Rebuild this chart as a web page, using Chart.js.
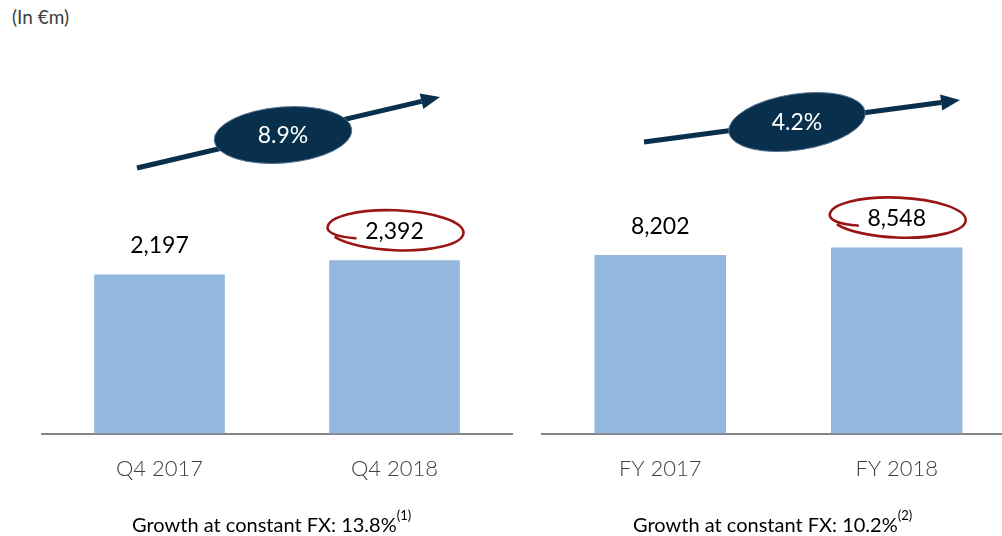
<!DOCTYPE html>
<html>
<head>
<meta charset="utf-8">
<script src="https://cdn.jsdelivr.net/npm/chart.js@4.4.0/dist/chart.umd.min.js"></script>
<style>
  html, body { margin: 0; padding: 0; width: 1002px; height: 536px; overflow: hidden; background: #fff; }
  body { position: relative; font-family: Lato, "Open Sans", sans-serif; }
  canvas { position: absolute; left: 0; top: 0; }
  #unit { position: absolute; left: 12px; top: 5px; font-size: 19px; color: #404040; }
  .note { position: absolute; top: 512px; font-size: 20px; line-height: 24px; color: #000; white-space: nowrap; }
  .note sup { font-size: 13px; position: relative; top: -3px; vertical-align: top; line-height: 13px; }
</style>
</head>
<body>
<div id="unit">(In €m)</div>
<canvas id="quarter" width="1002" height="536"></canvas>
<canvas id="year" width="1016" height="536"></canvas>
<div class="note" id="noteQ" style="left:132px"></div>
<div class="note" id="noteY" style="left:633px"></div>
<script>
const quarterLabels = ["Q4 2017", "Q4 2018"];
const quarterValues = [2197, 2392];
const yearLabels = ["FY 2017", "FY 2018"];
const yearValues = [8202, 8548];
const growthLabels = ["8.9%", "4.2%"];
const fxGrowth = ["13.8%", "10.2%"];
const fxNotes = ["(1)", "(2)"];

const NAVY = "#08304d";
const RED = "#9a1616";
const BAR = "#94b7de";

document.getElementById("noteQ").innerHTML = "Growth at constant FX: " + fxGrowth[0] + "<sup>" + fxNotes[0] + "</sup>";
document.getElementById("noteY").innerHTML = "Growth at constant FX: " + fxGrowth[1] + "<sup>" + fxNotes[1] + "</sup>";

// arrow + growth bubble, value labels, red loop round the latest value
const decoPlugin = {
  id: "deco",
  afterDatasetsDraw(chart, args, opts) {
    const ctx = chart.ctx;
    const meta = chart.getDatasetMeta(0);
    const values = chart.data.datasets[0].data;

    // arrow
    ctx.save();
    ctx.strokeStyle = NAVY;
    ctx.fillStyle = NAVY;
    ctx.lineWidth = 5;
    const [x0, y0, x1, y1] = opts.arrow;
    const ang = Math.atan2(y1 - y0, x1 - x0);
    const headLen = 19, headW = 8;
    const bx = x1 - headLen * Math.cos(ang), by = y1 - headLen * Math.sin(ang);
    ctx.beginPath();
    ctx.moveTo(x0, y0);
    ctx.lineTo(bx, by);
    ctx.stroke();
    ctx.beginPath();
    ctx.moveTo(x1, y1);
    ctx.lineTo(bx + headW * Math.sin(ang), by - headW * Math.cos(ang));
    ctx.lineTo(bx - headW * Math.sin(ang), by + headW * Math.cos(ang));
    ctx.closePath();
    ctx.fill();

    // bubble
    const b = opts.bubble;
    ctx.beginPath();
    ctx.ellipse(b.x, b.y, 69, 28, b.rot, 0, Math.PI * 2);
    ctx.fill();
    ctx.strokeStyle = "#5a7590";
    ctx.lineWidth = 1;
    ctx.stroke();
    ctx.fillStyle = "#fff";
    ctx.font = "23px Lato, 'Open Sans', sans-serif";
    ctx.textAlign = "center";
    ctx.textBaseline = "middle";
    ctx.fillText(opts.growth, b.x, b.y + 1);

    // value labels
    ctx.fillStyle = "#000";
    ctx.font = "23px Lato, 'Open Sans', sans-serif";
    meta.data.forEach((bar, i) => {
      ctx.fillText(values[i].toLocaleString("en-US"), bar.x, bar.y - 29);
    });

    // hand drawn loop round the last value
    const last = meta.data[meta.data.length - 1];
    const cx = last.x + 1, cy = last.y - 30;
    ctx.strokeStyle = RED;
    ctx.lineWidth = 2.6;
    ctx.lineCap = "round";
    ctx.beginPath();
    ctx.moveTo(cx - 40, cy + 8);
    ctx.quadraticCurveTo(cx - 66, cy + 6, cx - 68, cy - 2);
    ctx.ellipse(cx, cy, 68, 20, 0.04, Math.PI, 3 * Math.PI - 0.5);
    ctx.stroke();
    ctx.restore();
  }
};

function makeChart(id, labels, values, yMax, pad, deco) {
  return new Chart(document.getElementById(id), {
    type: "bar",
    data: {
      labels: labels,
      datasets: [{
        data: values,
        backgroundColor: BAR,
        borderWidth: 0,
        barPercentage: 0.556,
        categoryPercentage: 1
      }]
    },
    options: {
      responsive: false,
      animation: false,
      layout: { padding: pad },
      plugins: {
        legend: { display: false },
        tooltip: { enabled: false },
        deco: deco
      },
      scales: {
        x: {
          grid: { display: false, drawTicks: false },
          border: { display: true, color: "#858585", width: 2 },
          ticks: {
            padding: 22,
            color: "#404040",
            font: { family: "Lato, 'Open Sans', sans-serif", size: 22, weight: "300" }
          }
        },
        y: { display: false, min: 0, max: yMax }
      }
    },
    plugins: [decoPlugin]
  });
}

makeChart("quarter", quarterLabels, quarterValues, 5529,
  { left: 42, right: 490, top: 33, bottom: 32 },
  { arrow: [137, 168, 440, 97], bubble: { x: 283, y: 135, rot: -0.08 }, growth: growthLabels[0] });

makeChart("year", yearLabels, yearValues, 18408,
  { left: 542, right: 1, top: 33, bottom: 32 },
  { arrow: [644, 142, 960, 100], bubble: { x: 797, y: 122, rot: -0.15 }, growth: growthLabels[1] });
</script>
</body>
</html>
